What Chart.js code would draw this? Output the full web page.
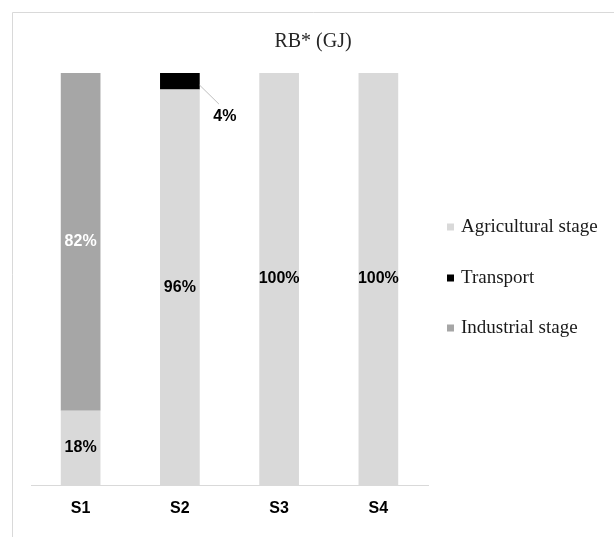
<!DOCTYPE html>
<html>
<head>
<meta charset="utf-8">
<script src="https://cdn.jsdelivr.net/npm/chart.js@4/dist/chart.umd.min.js"></script>
<style>
  html, body { margin: 0; padding: 0; background: #ffffff; }
  #c { display: block; }
</style>
</head>
<body>
<canvas id="c" width="614" height="537"></canvas>
<script>
const categories = ['S1', 'S2', 'S3', 'S4'];
const seriesNames = ['Agricultural stage', 'Transport', 'Industrial stage'];
const agricultural = [18, 96, 100, 100];
const transport = [0, 4, 0, 0];
const industrial = [82, 0, 0, 0];
const yTicks = [0, 100];
const chartTitle = 'RB* (GJ)';

const colors = ['#d9d9d9', '#000000', '#a6a6a6'];
const labelColors = ['#000000', '#000000', '#ffffff'];

const frame = {
  id: 'frame',
  beforeDraw(chart) {
    const ctx = chart.ctx;
    ctx.save();
    ctx.fillStyle = '#ffffff';
    ctx.fillRect(0, 0, chart.width, chart.height);
    ctx.strokeStyle = '#d9d9d9';
    ctx.lineWidth = 1;
    ctx.beginPath();
    ctx.moveTo(12.5, chart.height);
    ctx.lineTo(12.5, 12.5);
    ctx.lineTo(chart.width, 12.5);
    ctx.stroke();
    // title centred on the whole chart
    ctx.font = '20px "Liberation Serif", "Times New Roman", serif';
    ctx.fillStyle = '#262626';
    ctx.textAlign = 'center';
    ctx.textBaseline = 'middle';
    ctx.fillText(chartTitle, 313, 42);
    ctx.restore();
  }
};

const valueLabels = {
  id: 'valueLabels',
  afterDatasetsDraw(chart) {
    const ctx = chart.ctx;
    ctx.save();
    ctx.font = 'bold 16px "Liberation Sans", Arial, sans-serif';
    ctx.textAlign = 'center';
    ctx.textBaseline = 'middle';
    chart.data.datasets.forEach((ds, di) => {
      const meta = chart.getDatasetMeta(di);
      meta.data.forEach((bar, i) => {
        const v = ds.data[i];
        if (!v) return;
        const txt = v + '%';
        if (v < 8) {
          // outside label with leader line
          const tx = bar.x + 45;
          const ty = bar.y + 44;
          ctx.strokeStyle = '#bfbfbf';
          ctx.lineWidth = 1;
          ctx.beginPath();
          ctx.moveTo(bar.x + bar.width / 2, (bar.y + bar.base) / 2 + 4);
          ctx.lineTo(tx - 6, ty - 13);
          ctx.stroke();
          ctx.fillStyle = '#000000';
          ctx.fillText(txt, tx, ty);
        } else {
          ctx.fillStyle = labelColors[di];
          ctx.fillText(txt, bar.x, (bar.y + bar.base) / 2);
        }
      });
    });
    ctx.restore();
  }
};

const sideLegend = {
  id: 'sideLegend',
  afterDraw(chart) {
    const ctx = chart.ctx;
    ctx.save();
    ctx.font = '19px "Liberation Serif", "Times New Roman", serif';
    ctx.textBaseline = 'middle';
    ctx.textAlign = 'left';
    const rows = [227, 278, 328];
    chart.data.datasets.forEach((ds, di) => {
      const y = rows[di];
      ctx.fillStyle = ds.backgroundColor;
      ctx.fillRect(447, y - 3.5, 7, 7);
      ctx.fillStyle = '#1a1a1a';
      ctx.fillText(ds.label, 461, y);
    });
    ctx.restore();
  }
};

new Chart(document.getElementById('c'), {
  type: 'bar',
  data: {
    labels: categories,
    datasets: [
      { label: seriesNames[0], data: agricultural, backgroundColor: colors[0] },
      { label: seriesNames[1], data: transport, backgroundColor: colors[1] },
      { label: seriesNames[2], data: industrial, backgroundColor: colors[2] }
    ]
  },
  options: {
    responsive: false,
    animation: false,
    devicePixelRatio: 1,
    layout: { padding: { left: 31, right: 186, top: 73, bottom: 21 } },
    datasets: { bar: { barPercentage: 0.4, categoryPercentage: 1, borderWidth: 0 } },
    plugins: {
      legend: { display: false },
      tooltip: { enabled: false },
      title: { display: false }
    },
    scales: {
      x: {
        stacked: true,
        grid: { display: false, drawTicks: false },
        border: { display: true, color: '#d9d9d9', width: 1 },
        ticks: {
          color: '#000000',
          padding: 14,
          font: { family: '"Liberation Sans", Arial, sans-serif', size: 16, weight: 'bold' }
        },
        afterFit(s) { s.height = 31; }
      },
      y: {
        stacked: true,
        display: false,
        min: yTicks[0],
        max: yTicks[1]
      }
    }
  },
  plugins: [frame, valueLabels, sideLegend]
});
</script>
</body>
</html>
